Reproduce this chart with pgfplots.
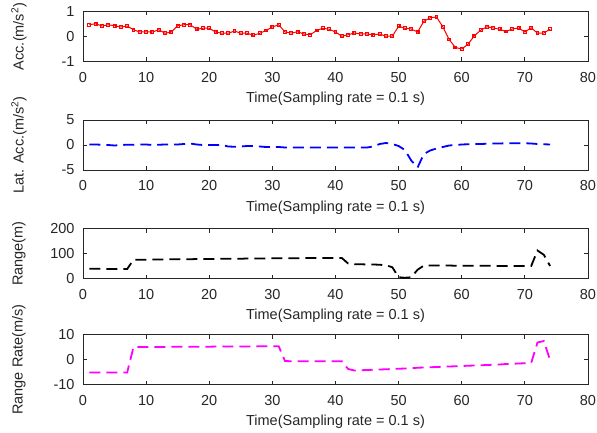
\documentclass[border=0pt]{standalone}
\usepackage{fontspec}
\setmainfont{Liberation Sans}
\usepackage{pgfplots}
\pgfplotsset{compat=1.18}
\definecolor{axgray}{rgb}{0.15,0.15,0.15}
\definecolor{mred}{rgb}{1,0,0}
\definecolor{mblue}{rgb}{0,0,1}
\definecolor{mmag}{rgb}{1,0,1}
\pgfplotsset{panel/.style={scale only axis, width=505pt, height=50pt, anchor=north west,
  xmin=0, xmax=80, xtick={0,10,...,80},
  axis line style={axgray, line width=0.9pt}, tick style={axgray, line width=0.9pt},
  major tick length=4pt, tick align=inside,
  font=\fontsize{14.5}{17}\selectfont, /pgf/number format/assume math mode=true,
  tick label style={text=axgray}, label style={text=axgray},
  xticklabel style={yshift=-7pt}, yticklabel style={xshift=-5pt},
  xlabel={Time(Sampling rate = 0.1 s)},
  xlabel style={at={(axis description cs:0.5,0)}, anchor=north, yshift=-27pt},
  ylabel style={at={(axis description cs:-0.127,0.5)}, anchor=center}},
  dline/.style={line width=1.8pt, dash pattern=on 11pt off 6pt}}

\begin{document}
\begin{tikzpicture}
\path[use as bounding box] (-83pt,0pt) rectangle (514pt,-433pt);

% longitudinal acceleration
\begin{axis}[panel, at={(0pt,-11.5pt)}, ymin=-1, ymax=1, ytick={-1,0,1},
  ylabel={Acc.(m/s\textsuperscript{2})}]
\addplot[mred, line width=1pt, mark=square, mark size=1.4pt, mark options={solid, line width=1.1pt}] coordinates {
(1,0.47) (2,0.51) (3,0.42) (4,0.47) (5,0.43) (6,0.38) (7,0.42) (8,0.27) (9,0.18) (10,0.18)
(11,0.18) (12,0.27) (13,0.13) (14,0.18) (15,0.43) (16,0.47) (17,0.47) (18,0.29) (19,0.33) (20,0.33)
(21,0.18) (22,0.13) (23,0.13) (24,0.22) (25,0.13) (26,0.13) (27,0.05) (28,0.13) (29,0.24) (30,0.38)
(31,0.47) (32,0.18) (33,0.14) (34,0.19) (35,0.10) (36,0.07) (37,0.24) (38,0.33) (39,0.29) (40,0.18)
(41,0.01) (42,0.07) (43,0.14) (44,0.10) (45,0.10) (46,0.07) (47,0.10) (48,0.01) (49,0.01) (50,0.41)
(51,0.33) (52,0.30) (53,0.18) (54,0.61) (55,0.75) (56,0.78) (57,0.39) (58,-0.12) (59,-0.44) (60,-0.50)
(61,-0.31) (62,0.03) (63,0.25) (64,0.39) (65,0.34) (66,0.29) (67,0.20) (68,0.30) (69,0.34) (70,0.18)
(71,0.35) (72,0.13) (73,0.14) (74,0.29)};
\end{axis}

% lateral acceleration
\begin{axis}[panel, at={(0pt,-120pt)}, ymin=-5, ymax=5, ytick={-5,0,5},
  ylabel={Lat. Acc.(m/s\textsuperscript{2})}]
\addplot[mblue, dline] coordinates {
(1,0.1) (2,0.1) (3,0.05) (4,0) (5,-0.1) (6,0) (7,0.05) (8,0.05) (9,0.1) (10,0.1)
(11,0) (12,0.05) (13,0.1) (14,0.1) (15,0.1) (16,0.2) (17,0.3) (18,0.1) (19,0) (20,0)
(21,0) (22,0) (23,-0.3) (24,-0.35) (25,-0.3) (26,-0.2) (27,-0.2) (28,-0.3) (29,-0.4) (30,-0.4)
(31,-0.4) (32,-0.5) (33,-0.5) (34,-0.5) (35,-0.5) (36,-0.5) (37,-0.5) (38,-0.5) (39,-0.5) (40,-0.5)
(41,-0.5) (42,-0.5) (43,-0.5) (44,-0.5) (45,-0.5) (46,-0.3) (47,0.2) (48,0.4) (49,0.2) (50,-0.2)
(51,-1.0) (52,-3.1) (53,-4.5) (54,-1.8) (55,-1.1) (56,-0.7) (57,-0.4) (58,-0.1) (59,0) (60,0.1)
(61,0.15) (62,0.2) (63,0.2) (64,0.25) (65,0.3) (66,0.3) (67,0.35) (68,0.35) (69,0.35) (70,0.35)
(71,0.3) (72,0.2) (73,0.15) (74,0.1)};
\end{axis}

% range
\begin{axis}[panel, at={(0pt,-228.5pt)}, ymin=0, ymax=200, ytick={0,100,200},
  ylabel={Range(m)}]
\addplot[black, dline] coordinates {
(1,39) (2,39) (3,39) (4,38) (5,38) (6,38) (7,38) (8,75) (9,75) (10,75)
(11,76) (12,76) (13,76) (14,77) (15,77) (16,77) (17,77) (18,78) (19,78) (20,78)
(21,78) (22,79) (23,79) (24,79) (25,79) (26,80) (27,80) (28,80) (29,80) (30,81)
(31,81) (32,81) (33,81) (34,81) (35,82) (36,82) (37,82) (38,82) (39,82) (40,82)
(41,82) (42,60) (43,57) (44,57) (45,56) (46,56) (47,55) (48,53) (49,45) (50,5)
(51,3) (52,5) (53,35) (54,52) (55,52) (56,52) (57,52) (58,52) (59,51) (60,51)
(61,51) (62,51) (63,51) (64,51) (65,51) (66,50) (67,50) (68,50) (69,50) (70,50)
(71,50) (72,112) (73,95) (74,50)};
\end{axis}

% range rate
\begin{axis}[panel, at={(0pt,-334.5pt)}, ymin=-10, ymax=10, ytick={-10,0,10},
  ylabel={Range Rate(m/s)}]
\addplot[mmag, dline] coordinates {
(1,-5.2) (2,-5.2) (3,-5.2) (4,-5.2) (5,-5.2) (6,-5.2) (7,-5.2) (8,5.0) (9,5.0) (10,5.0)
(11,5.0) (12,5.0) (13,5.0) (14,5.1) (15,5.1) (16,5.1) (17,5.1) (18,5.1) (19,5.1) (20,5.1)
(21,5.2) (22,5.2) (23,5.2) (24,5.2) (25,5.2) (26,5.2) (27,5.2) (28,5.3) (29,5.3) (30,5.3)
(31,5.3) (32,-0.6) (33,-0.7) (34,-0.7) (35,-0.7) (36,-0.7) (37,-0.7) (38,-0.7) (39,-0.7) (40,-0.7)
(41,-0.7) (42,-3.8) (43,-4.4) (44,-4.3) (45,-4.2) (46,-4.1) (47,-4.0) (48,-3.9) (49,-3.8) (50,-3.7)
(51,-3.6) (52,-3.5) (53,-3.3) (54,-3.2) (55,-3.1) (56,-3.0) (57,-2.9) (58,-2.8) (59,-2.7) (60,-2.6)
(61,-2.5) (62,-2.4) (63,-2.3) (64,-2.2) (65,-2.1) (66,-2.0) (67,-1.8) (68,-1.7) (69,-1.6) (70,-1.5)
(71,-1.4) (72,6.8) (73,7.4) (74,-0.3)};
\end{axis}
\end{tikzpicture}
\end{document}
